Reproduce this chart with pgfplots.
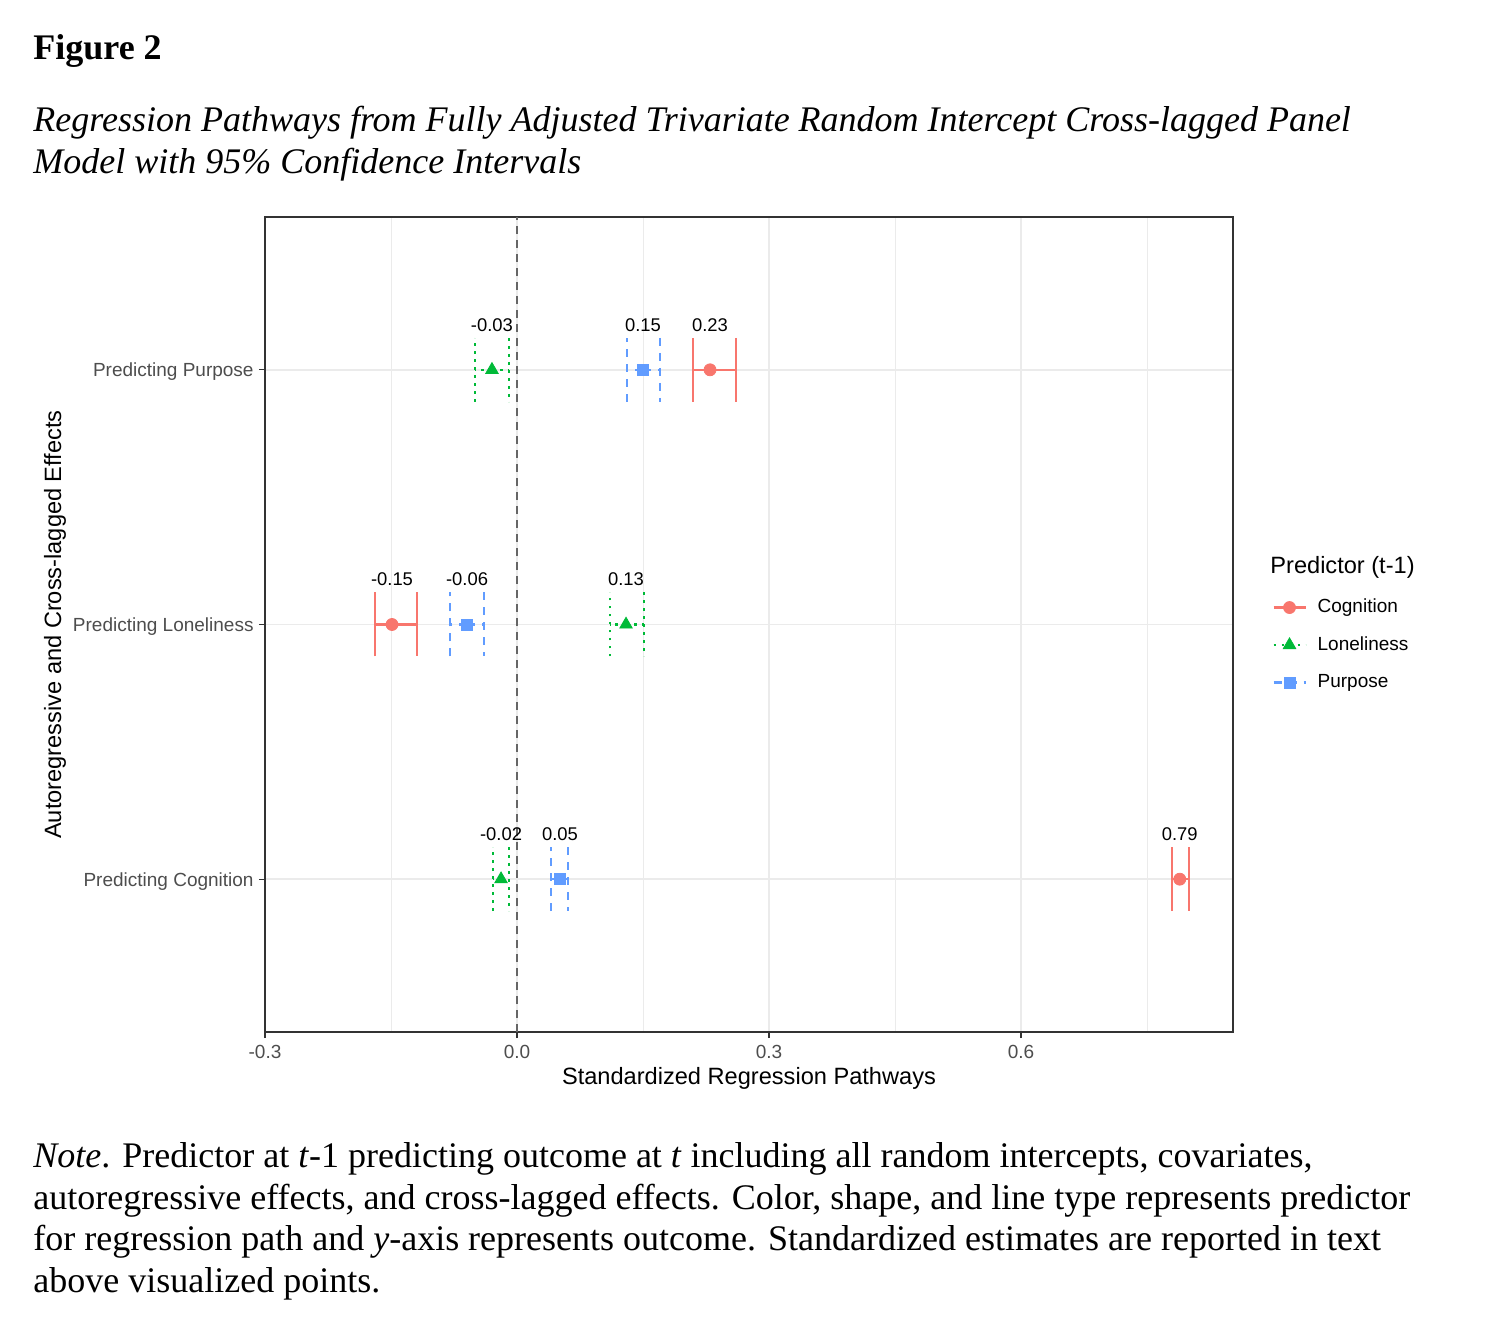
\documentclass[border=0pt]{standalone}
\usepackage{pgfplots}
\pgfplotsset{compat=1.18}
\usepackage{pgfplotstable}
\usepackage{fontspec}
\setmainfont{Liberation Serif}
\newfontfamily\chartfont{Liberation Sans}

\definecolor{cogcol}{HTML}{F8766D}
\definecolor{loncol}{HTML}{00BA38}
\definecolor{purcol}{HTML}{619CFF}
\definecolor{grey92}{HTML}{EBEBEB}
\definecolor{grey20}{HTML}{333333}
\definecolor{grey30}{HTML}{4D4D4D}
\definecolor{grey40}{HTML}{666666}

% estimate, lower and upper CI per outcome row (1 = Cognition, 2 = Loneliness, 3 = Purpose)
\pgfplotstableread{
y est lo hi lab
3 0.2298 0.2095 0.2607 0.23
2 -0.1488 -0.1690 -0.1190 -0.15
1 0.7890 0.7800 0.8000 0.79
}\cognition
\pgfplotstableread{
y est lo hi lab
3 -0.0298 -0.0500 -0.0095 -0.03
2 0.1298 0.1107 0.1510 0.13
1 -0.0190 -0.0286 -0.0095 -0.02
}\loneliness
\pgfplotstableread{
y est lo hi lab
3 0.1500 0.1310 0.1700 0.15
2 -0.0595 -0.0798 -0.0393 -0.06
1 0.0512 0.0405 0.0607 0.05
}\purpose

\newcommand{\tickfont}{\chartfont\fontsize{9.5pt}{11pt}\selectfont}
\newcommand{\titlefont}{\chartfont\fontsize{11.8pt}{14pt}\selectfont}

\pgfplotsset{
  cogleg/.style={legend image code/.code={
      \draw[line width=1.1pt, solid, cogcol] (0pt,0pt) -- (16pt,0pt);
      \draw[cogcol, mark=*, mark size=3pt, only marks] plot coordinates {(8pt,0pt)};}},
  lonleg/.style={legend image code/.code={
      \draw[line width=1.1pt, dash pattern=on 1.4pt off 2.6pt, loncol] (0pt,0pt) -- (16pt,0pt);
      \draw[loncol, mark=triangle*, mark size=3.6pt, only marks] plot coordinates {(8pt,0pt)};}},
  purleg/.style={legend image code/.code={
      \draw[line width=1.1pt, dash pattern=on 4pt off 3.5pt, purcol] (0pt,0pt) -- (16pt,0pt);
      \draw[purcol, mark=square*, mark size=2.75pt, only marks] plot coordinates {(8pt,0pt)};}},
}

\begin{document}
\begin{tikzpicture}
\path[use as bounding box] (0,0) rectangle (745pt,-668pt);

\node[anchor=base west, inner sep=0pt, font=\fontsize{18pt}{21pt}\selectfont\bfseries] at (16.5pt,-30pt) {Figure 2};
\node[anchor=base west, inner sep=0pt, font=\fontsize{18pt}{21pt}\selectfont\itshape] at (16.5pt,-66pt) {Regression Pathways from Fully Adjusted Trivariate Random Intercept Cross-lagged Panel};
\node[anchor=base west, inner sep=0pt, font=\fontsize{18pt}{21pt}\selectfont\itshape] at (16.5pt,-87pt) {Model with 95\% Confidence Intervals};

\begin{axis}[
    at={(132.5pt,-516pt)}, anchor=south west,
    scale only axis, width=484pt, height=407.5pt,
    xmin=-0.3, xmax=0.8524, ymin=0.4, ymax=3.6,
    xtick={-0.3,0,0.3,0.6}, xticklabels={-0.3,0.0,0.3,0.6},
    minor xtick={-0.15,0.15,0.45,0.75},
    ytick={1,2,3},
    yticklabels={Predicting Cognition,Predicting Loneliness,Predicting Purpose},
    xmajorgrids, xminorgrids, ymajorgrids,
    major grid style={color=grey92, line width=0.75pt},
    minor grid style={color=grey92, line width=0.4pt},
    axis line style={color=grey20, line width=0.6pt},
    tick style={color=grey20, line width=0.6pt},
    tick align=outside, major tick length=3pt, minor tick length=0pt,
    xtick pos=lower, ytick pos=left,
    xticklabel style={font=\tickfont, text=grey30, inner sep=0pt, anchor=north, yshift=-3.5pt},
    yticklabel style={font=\tickfont, text=grey30, inner sep=0pt, anchor=base east, xshift=-2.5pt, yshift=-3.5pt},
    xlabel={Standardized Regression Pathways},
    ylabel={Autoregressive and Cross-lagged Effects},
    xlabel style={font=\titlefont, at={(axis description cs:0.5,-0.065)}, anchor=base, inner sep=0pt},
    ylabel style={font=\titlefont, at={(axis description cs:-0.2107,0.5)}, anchor=base, inner sep=0pt},
    clip=false,
    legend cell align=left,
    legend style={at={(rel axis cs:1.0403,0.4748)}, anchor=west, draw=none, fill=none,
        inner sep=0pt, font=\tickfont, row sep=9.75pt, column sep=5.5pt,
        nodes={inner sep=0pt, text height=7pt, text depth=2pt}},
    nodes near coords style={font=\chartfont\fontsize{9.2pt}{11pt}\selectfont, text=black, anchor=center, yshift=22.5pt, inner sep=0pt},
]
\addplot[grey40, line width=0.75pt, dash pattern=on 4pt off 3pt, forget plot] coordinates {(0,0.4) (0,3.6)};

\addplot[only marks, color=cogcol, mark=*, mark size=3pt, mark options={solid}, cogleg,
    nodes near coords, point meta=explicit symbolic,
    error bars/.cd, x dir=both, x explicit,
    error bar style={line width=1.1pt, solid},
    error mark options={line width=1.1pt, solid, mark size=16pt, rotate=90}]
    table[x=est, y=y, meta=lab,
      x error plus expr=\thisrow{hi}-\thisrow{est},
      x error minus expr=\thisrow{est}-\thisrow{lo}] {\cognition};
\addlegendentry{Cognition}

\addplot[only marks, color=loncol, mark=triangle*, mark size=3.6pt, mark options={solid}, lonleg,
    nodes near coords, point meta=explicit symbolic,
    error bars/.cd, x dir=both, x explicit,
    error bar style={line width=1.1pt, dash pattern=on 1.4pt off 2.6pt},
    error mark options={line width=1.1pt, dash pattern=on 1.4pt off 2.6pt, mark size=16pt, rotate=90}]
    table[x=est, y=y, meta=lab,
      x error plus expr=\thisrow{hi}-\thisrow{est},
      x error minus expr=\thisrow{est}-\thisrow{lo}] {\loneliness};
\addlegendentry{Loneliness}

\addplot[only marks, color=purcol, mark=square*, mark size=2.75pt, mark options={solid}, purleg,
    nodes near coords, point meta=explicit symbolic,
    error bars/.cd, x dir=both, x explicit,
    error bar style={line width=1.1pt, dash pattern=on 4pt off 3.5pt},
    error mark options={line width=1.1pt, dash pattern=on 4pt off 3.5pt, mark size=16pt, rotate=90}]
    table[x=est, y=y, meta=lab,
      x error plus expr=\thisrow{hi}-\thisrow{est},
      x error minus expr=\thisrow{est}-\thisrow{lo}] {\purpose};
\addlegendentry{Purpose}
\end{axis}

\node[anchor=base west, inner sep=0pt, font=\titlefont] at (635pt,-287pt) {Predictor (t-1)};

\node[anchor=base west, inner sep=0pt, font=\fontsize{18pt}{21pt}\selectfont] at (16.5pt,-583.5pt) {\textit{Note}. Predictor at \textit{t}-1 predicting outcome at \textit{t} including all random intercepts, covariates,};
\node[anchor=base west, inner sep=0pt, font=\fontsize{18pt}{21pt}\selectfont] at (16.5pt,-604.5pt) {autoregressive effects, and cross-lagged effects. Color, shape, and line type represents predictor};
\node[anchor=base west, inner sep=0pt, font=\fontsize{18pt}{21pt}\selectfont] at (16.5pt,-625pt) {for regression path and \textit{y}-axis represents outcome. Standardized estimates are reported in text};
\node[anchor=base west, inner sep=0pt, font=\fontsize{18pt}{21pt}\selectfont] at (16.5pt,-646pt) {above visualized points.};
\end{tikzpicture}
\end{document}
